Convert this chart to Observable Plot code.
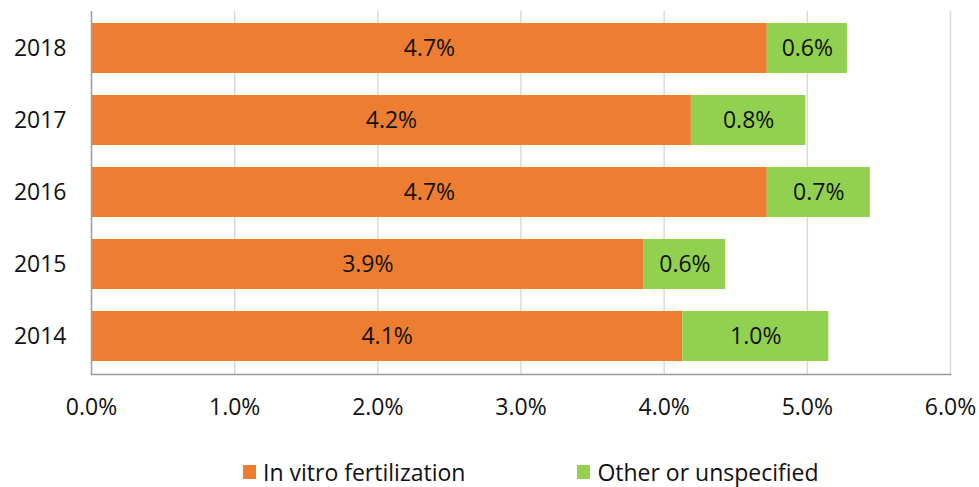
<!DOCTYPE html>
<html>
<head>
<meta charset="utf-8">
<script src="https://cdn.jsdelivr.net/npm/d3@7"></script>
<script src="https://cdn.jsdelivr.net/npm/@observablehq/plot@0.6"></script>
<style>
  html, body { margin: 0; padding: 0; background: #fff; }
  body { width: 979px; font-family: "Open Sans", sans-serif; }
  #legend { display: flex; justify-content: flex-start; height: 84px; align-items: center; font-size: 23px; color: #111; }
  .item { display: flex; align-items: center; }
  .sw { width: 13px; height: 14px; display: inline-block; margin-right: 7px; }
</style>
</head>
<body>
<div id="chart"></div>
<div id="legend"></div>
<script>
const years = ["2018", "2017", "2016", "2015", "2014"];
const ivf = [4.72, 4.19, 4.72, 3.86, 4.13];
const other = [0.56, 0.80, 0.72, 0.57, 1.02];
const seriesNames = ["In vitro fertilization", "Other or unspecified"];
const seriesColors = ["#ED7D31", "#92D050"];
const xTicks = [0, 1, 2, 3, 4, 5, 6];

const rows = [];
years.forEach((y, i) => {
  rows.push({year: y, series: seriesNames[0], value: ivf[i]});
  rows.push({year: y, series: seriesNames[1], value: other[i]});
});
const fmt = d3.format(".1f");

const plot = Plot.plot({
  width: 979,
  height: 430,
  marginTop: 11,
  marginBottom: 56,
  marginLeft: 91,
  marginRight: 29,
  style: {fontFamily: "Open Sans, sans-serif", fontSize: "23px", color: "#111", background: "#fff"},
  x: {domain: [0, 6], ticks: xTicks},
  y: {domain: years, paddingInner: 0.3, paddingOuter: 0.15},
  color: {domain: seriesNames, range: seriesColors},
  marks: [
    Plot.gridX(xTicks.filter(d => d > 0), {stroke: "#D9D9D9", strokeOpacity: 1, strokeWidth: 1.5}),
    Plot.barX(rows, Plot.stackX({x: "value", y: "year", fill: "series", order: null})),
    Plot.textX(rows, Plot.stackX({x: "value", y: "year", z: "series", order: null, text: d => fmt(d.value) + "%", fill: "#111", fontSize: 23})),
    Plot.ruleX([0], {stroke: "#9a9a9a", strokeWidth: 1.5}),
    Plot.axisX(xTicks, {tickSize: 0, tickPadding: 24, tickFormat: d => d.toFixed(1) + "%", fontSize: 23, label: null}),
    Plot.axisY({tickSize: 0, tickPadding: 25, fontSize: 23, label: null}),
    Plot.frame({anchor: "bottom", stroke: "#9a9a9a", strokeWidth: 1.5})
  ]
});
document.getElementById("chart").appendChild(plot);

const legend = document.getElementById("legend");
seriesNames.forEach((name, i) => {
  const item = document.createElement("div");
  item.className = "item";
  item.style.marginLeft = i === 0 ? "243px" : "112px";
  const sw = document.createElement("span");
  sw.className = "sw";
  sw.style.background = seriesColors[i];
  const t = document.createElement("span");
  t.textContent = name;
  item.appendChild(sw);
  item.appendChild(t);
  legend.appendChild(item);
});
</script>
</body>
</html>
